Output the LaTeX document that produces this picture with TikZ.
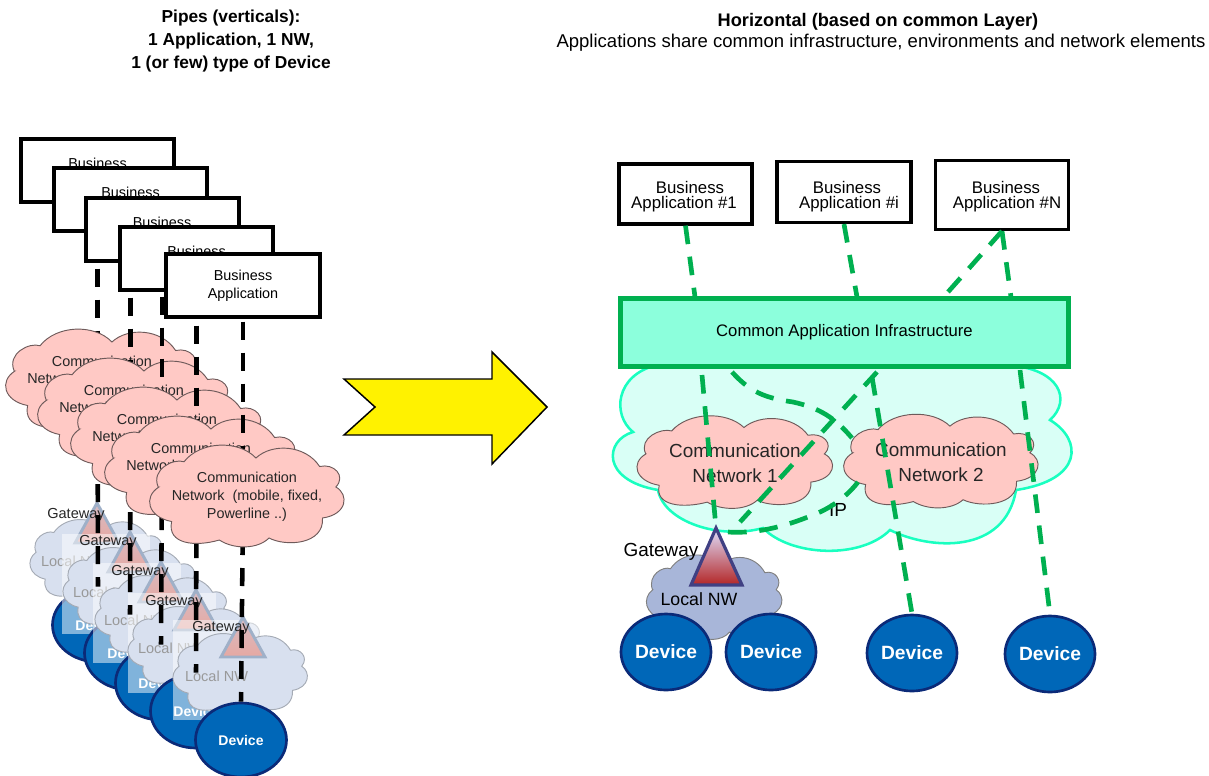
\documentclass[tikz,border=0pt]{standalone}
\usepackage{fontspec}
\setmainfont{Liberation Sans}
\usetikzlibrary{shapes.geometric,calc}
\definecolor{pinkc}{HTML}{FFC9C5}
\definecolor{pinkd}{HTML}{6E5A5A}
\definecolor{paleb}{HTML}{D8E0EF}
\definecolor{paled}{HTML}{A5ABB5}
\definecolor{devb}{HTML}{0067B8}
\definecolor{devd}{HTML}{0B2A78}
\definecolor{grn}{HTML}{00B050}
\definecolor{mint}{HTML}{8CFFDC}
\definecolor{ipf}{HTML}{D9FFF6}
\definecolor{ipd}{HTML}{19FFC0}
\definecolor{lnw}{HTML}{A8B6D9}
\definecolor{tribd}{HTML}{9FB0C8}
\definecolor{tritop}{HTML}{D6BCC4}
\definecolor{tribot}{HTML}{E6A8A2}
% #1 name, #2 cx, #3 cy, #4 width, #5 height, #6 cloud style, #7 node options, #8 text
\newcommand{\cloudat}[8]{%
  \begin{scope}[shift={(#2,#3)},xscale=#4/2,yscale=#5/2]
    \draw[#6] (-0.94,-0.2)
      .. controls (-1.02,-0.55) and (-0.78,-0.78) .. (-0.67,-0.705)
      .. controls (-0.5,-1.12) and (-0.1,-1.15) .. (0.083,-0.78)
      .. controls (0.25,-1.08) and (0.6,-1.05) .. (0.75,-0.61)
      .. controls (0.9,-0.68) and (1.03,-0.42) .. (0.92,-0.2)
      .. controls (1.06,-0.05) and (1.04,0.35) .. (0.78,0.42)
      .. controls (0.8,0.95) and (0.4,1.0) .. (0.22,0.82)
      .. controls (0.1,1.05) and (-0.15,1.05) .. (-0.30,0.86)
      .. controls (-0.55,1.0) and (-0.85,0.95) .. (-0.80,0.49)
      .. controls (-1.05,0.4) and (-1.1,0.0) .. cycle;
  \end{scope}
  \node[inner sep=0,align=center,#7] (#1) at (#2,#3) {#8};}
\tikzset{
  x=0.75pt,y=-0.75pt,
  appbox/.style={draw=black,line width=3pt,fill=white,inner sep=0,align=center,font=\fontsize{10.8}{13.5}\selectfont},
  pinkcloud/.style={draw=pinkd,fill=pinkc,line width=0.7pt},
  palecloud/.style={draw=paled,fill=paleb,line width=0.7pt},
  darkcloud/.style={draw=gray,fill=lnw,line width=0.7pt},
  devoval/.style={ellipse,draw=devd,fill=devb,line width=2pt,inner sep=0,text=white},
  pipe/.style={line width=3.4pt,draw=black,dash pattern=on 13.5pt off 9.75pt,shorten <=2pt},
  pipelow/.style={pipe,shorten <=0pt},
  gdash/.style={line width=3.5pt,draw=grn,dash pattern=on 14pt off 9.5pt},
  veil/.style={fill=white,fill opacity=0.5,draw=none},
  paletri/.style={draw=tribd,line width=2.2pt,top color=tritop,bottom color=tribot},
  lbl/.style={font=\fontsize{10.9}{12}\selectfont,inner sep=0},
  smalltxt/.style={font=\fontsize{10.8}{13.5}\selectfont,text=black!85},
  bigtxt/.style={font=\fontsize{14.2}{18.5}\selectfont,text=black!85},
  apptxt/.style={font=\fontsize{12.6}{13}\selectfont,inner sep=0}
}
\begin{document}
\begin{tikzpicture}
\useasboundingbox (0,0) rectangle (1209,775);
% titles
\node[font=\bfseries\fontsize{13}{17.25}\selectfont,align=center,inner sep=0] (t1) at (231,41) {Pipes (verticals):\\1 Application, 1 NW,\\1 (or few) type of Device};
\node[font=\bfseries\fontsize{13.65}{16}\selectfont,inner sep=0] (t2) at (878,22) {Horizontal (based on common Layer)};
\node[font=\fontsize{13.9}{16}\selectfont,inner sep=0] (t3) at (881,43) {Applications share common infrastructure, environments and network elements};
% ---------- left stack: lower part
\foreach \k/\lx/\ly/\dx/\dy/\tx/\ty/\gx/\gy/\nx/\ny/\vx/\vy in {
 1/98/560/98/625/97/503/76/515/72.5/561/62/534,
 2/131/588/130/653/130/532/108/542/104.5/592/93/563,
 3/163/616/161/683/161/562/140/572/135.5/620/128/593,
 4/196/647/196/711/196/590/174/602/169.5/648/173/620,
 5/241/674/241/740/243/617/221/628/216.5/676/0/0}{
  \cloudat{ln\k}{\lx}{\ly}{132}{78}{palecloud}{}{}
  \draw[paletri] (\tx,\ty) coordinate (gw\k) -- ++(-22,40) -- ++(44,0) -- cycle;
  \node[lbl,text=black!85] (gt\k) at (\gx,\gy) {Gateway};
  \node[lbl,text=gray!80] (nt\k) at (\nx,\ny) {Local NW};
  \node[devoval,minimum width=91*0.75pt,minimum height=74*0.75pt,font=\bfseries\fontsize{10.5}{12}\selectfont] (dv\k) at (\dx,\dy) {Device};
  \ifnum\k<5 \fill[veil] (\vx,\vy) rectangle ++(88,100); \fi
}
\coordinate (sp1) at (97.5,391);
\coordinate (sp2) at (130.5,419);
\coordinate (sp3) at (162,450);
\coordinate (sp4) at (196.5,478);
\coordinate (sp5) at (243,506);
\draw[pipelow] (sp1) -- (dv1.north);
\draw[pipelow] (sp2) -- (dv2.north);
\draw[pipelow] (sp3) -- (dv3.north);
\draw[pipelow] (sp4) -- (dv4.north);
\draw[pipelow] (sp5) -- (dv5.north);
% ---------- left stack: upper part
\foreach \k/\bx/\by/\cx/\cy in {
 1/97.5/170.5/104/381,
 2/130.5/199.5/136/410,
 3/162/229.5/169/439,
 4/196.5/258.5/203/468}{
  \node[appbox,minimum width=153*0.75pt,minimum height=63*0.75pt] (bx\k) at (\bx,\by) {};
  \node[lbl,font=\fontsize{10.8}{13.5}\selectfont] (bt\k) at (\bx,\by-7.5) {Business};
  \draw[pipe] (bx\k.south) -- (sp\k);
  \cloudat{cl\k}{\cx}{\cy}{191}{100}{pinkcloud}{}{}
  \node[lbl,smalltxt] (ct\k) at (\cx-2,\cy-20) {Communication};
  \node[lbl,smalltxt,anchor=west] (cw\k) at (\cx-77,\cy-3) {Network};
}
\node[appbox,minimum width=154*0.75pt,minimum height=63*0.75pt] (bx5) at (243,285.5) {Business\\Application};
\draw[pipe] (bx5.south) -- (sp5);
\cloudat{cl5}{248}{497}{191}{100}{pinkcloud}{smalltxt,xshift=-0.75pt}{Communication\\Network\ \ (mobile, fixed,\\Powerline ..)}
% ---------- big arrow
\draw[line width=1.1pt,fill=yellow] (344,379) -- (492,379) -- (492,352) -- (547,407) -- (492,464) -- (492,435) -- (344,435) -- (375,407) -- cycle;
% ---------- right: IP cloud
\draw[draw=ipd,fill=ipf,line width=1.9pt] (657,365)
  .. controls (615,375) and (612,415) .. (633,432)
  .. controls (605,440) and (600,480) .. (658,490)
  .. controls (664,522) and (720,540) .. (763,528)
  .. controls (790,556) and (860,560) .. (890,530)
  .. controls (930,550) and (1005,555) .. (1016,490)
  .. controls (1083,480) and (1083,440) .. (1050,420)
  .. controls (1072,400) and (1060,368) .. (1006,365) -- cycle;
\cloudat{cn1}{736}{463}{192}{91}{pinkcloud}{bigtxt,xshift=-0.75pt}{Communication\\Network 1}
\cloudat{cn2}{942}{462}{191}{92}{pinkcloud}{bigtxt,xshift=-0.75pt}{Communication\\Network 2}
\node[font=\fontsize{14.2}{16}\selectfont,inner sep=0] (ip) at (838,510) {IP};
\node[draw=grn,fill=mint,line width=3.6pt,minimum width=448*0.75pt,minimum height=68*0.75pt,inner sep=0,font=\fontsize{12.5}{14}\selectfont] (bar) at (844.5,332.5) {Common Application Infrastructure};
\cloudat{lnr}{715}{598}{133}{83}{darkcloud}{}{}
\node[font=\fontsize{13.3}{14}\selectfont,inner sep=0] (lnrt) at (699,599) {Local NW};
\node[font=\fontsize{14.2}{14}\selectfont,inner sep=0] (gwrt) at (661,552) {Gateway};
\draw[draw=blue!35!black!75,line width=2.4pt,top color=blue!12!white,bottom color=red!65!black!85] (716,528) coordinate (gwr) -- ++(-25,57) -- ++(51,0) -- cycle;
\foreach \n/\xx/\yy in {1/666/652,2/771/652,3/912/653,4/1050/654}{
  \node[devoval,minimum width=90*0.75pt,minimum height=76*0.75pt,font=\bfseries\fontsize{14.4}{16}\selectfont] (dr\n) at (\xx,\yy) {Device};
}
\node[appbox,line width=2.4pt,minimum width=133*0.75pt,minimum height=60*0.75pt] (a1) at (685.5,194) {};
\node[appbox,line width=2.4pt,minimum width=134*0.75pt,minimum height=61*0.75pt] (ai) at (844,192) {};
\node[appbox,line width=2.4pt,minimum width=133*0.75pt,minimum height=69*0.75pt] (aN) at (1002,195) {};
\foreach \nm/\bxx/\axx/\txt in {p/690/684/\#1,q/847/849/\#i,r/1006/1007/\#N}{
  \node[apptxt] (bu\nm) at (\bxx,187) {Business};
  \node[apptxt] (ap\nm) at (\axx,204) {Application \txt};
}
% green connectors
\coordinate (u1) at (695,297); \coordinate (u2) at (857,297); \coordinate (u3) at (1011,297); \coordinate (u4) at (948,292);
\coordinate (d1) at (702,375); \coordinate (d2) at (877,372); \coordinate (d3) at (872,377); \coordinate (d4) at (1020,370); \coordinate (d5) at (732,372);
\coordinate (e1) at (740,522); \coordinate (f1) at (728,532);
\draw[gdash] (a1.south) -- (u1);
\draw[gdash] (ai.south) -- (u2);
\draw[gdash] (aN.south) -- (u3);
\draw[gdash] (aN.south) -- (u4);
\draw[gdash] (d1) -- (gwr);
\draw[gdash] (d2) -- (e1);
\draw[gdash] (d3) -- (dr3.north);
\draw[gdash] (d4) -- (dr4.north);
\draw[gdash] (d5) .. controls (750,392) and (765,398) .. (793,402) .. controls (820,408) and (835,418) .. (852,438);
\draw[gdash] (f1) .. controls (760,534) and (790,525) .. (820,512) .. controls (835,505) and (848,495) .. (858,482);
\end{tikzpicture}
\end{document}
